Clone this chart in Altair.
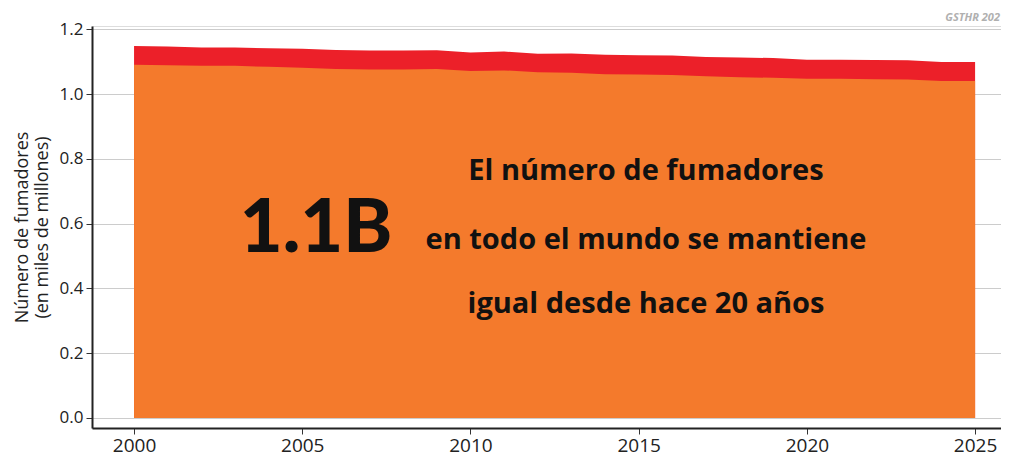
import altair as alt
import pandas as pd

years = list(range(2000, 2026))
orange_top = [1.090, 1.089, 1.087, 1.087, 1.084, 1.081, 1.077, 1.076, 1.076, 1.077,
              1.071, 1.073, 1.067, 1.066, 1.061, 1.060, 1.059, 1.055, 1.052, 1.050,
              1.047, 1.047, 1.046, 1.045, 1.040, 1.040]
total_top = [1.148, 1.147, 1.144, 1.144, 1.141, 1.140, 1.136, 1.134, 1.134, 1.135,
             1.128, 1.131, 1.124, 1.125, 1.121, 1.120, 1.119, 1.114, 1.113, 1.111,
             1.106, 1.106, 1.105, 1.104, 1.099, 1.099]

ytick_values = [0.0, 0.2, 0.4, 0.6, 0.8, 1.0, 1.2]
xtick_values = [2000, 2005, 2010, 2015, 2020, 2025]

df = pd.DataFrame({"year": years, "orange": orange_top, "total": total_top})

FONT = "Open Sans"
W, H = 909, 402

xscale = alt.Scale(domain=[1998.75, 2025.77], nice=False, zero=False)
yscale = alt.Scale(domain=[-0.031, 1.21], nice=False, zero=False)

xax = alt.Axis(values=xtick_values, format="d", grid=False, labelFontSize=19,
               labelColor="#222", labelFont=FONT, tickSize=6, tickColor="#333",
               domainColor="#222", domainWidth=2, labelPadding=2, title=None)
yax = alt.Axis(values=ytick_values, format=".1f", grid=True, gridColor="#cccccc",
               labelFontSize=17, labelColor="#222", labelFont=FONT, tickSize=6,
               tickColor="#333", domainColor="#222", domainWidth=2, labelPadding=3,
               title=["Número de fumadores", "(en miles de millones)"],
               titleFont=FONT, titleFontSize=18, titleFontWeight="normal",
               titleColor="#222", titlePadding=8, titleLineHeight=20)

base = alt.Chart(df)

red = base.mark_area(color="#EC2029", opacity=1).encode(
    x=alt.X("year:Q", scale=xscale, axis=xax),
    y=alt.Y("total:Q", scale=yscale, axis=yax),
    y2=alt.datum(0),
)
orange = base.mark_area(color="#F47A2C", opacity=1).encode(
    x=alt.X("year:Q", scale=xscale),
    y=alt.Y("orange:Q", scale=yscale),
    y2=alt.datum(0),
)

big = alt.Chart(pd.DataFrame({"t": ["1.1B"]})).mark_text(
    font="Lato", fontSize=74, fontWeight=900, color="#111", align="center",
    baseline="alphabetic"
).encode(x=alt.value(224), y=alt.value(226), text="t:N")

lines = pd.DataFrame({
    "t": ["El número de fumadores", "en todo el mundo se mantiene", "igual desde hace 20 años"],
    "py": [145, 214, 278],
})
msg = alt.Chart(lines).mark_text(
    font=FONT, fontSize=29, fontWeight="bold", color="#111", align="center",
    baseline="middle"
).encode(x=alt.value(554), y=alt.Y("py:Q", scale=None), text="t:N")

src = alt.Chart(pd.DataFrame({"t": ["GSTHR 202"]})).mark_text(
    font=FONT, fontSize=11, fontWeight="bold", fontStyle="italic", color="#b0b0b0",
    align="right", baseline="middle"
).encode(x=alt.value(908), y=alt.value(-8), text="t:N")

chart = alt.layer(red, orange, big, msg, src).properties(
    width=W, height=H,
    autosize=alt.AutoSizeParams(type="none"),
    padding={"left": 84, "top": 18, "right": 0, "bottom": 29},
).configure_view(stroke=None).configure(font=FONT)

chart.save("out.html", embed_options={"renderer": "svg", "actions": False})
